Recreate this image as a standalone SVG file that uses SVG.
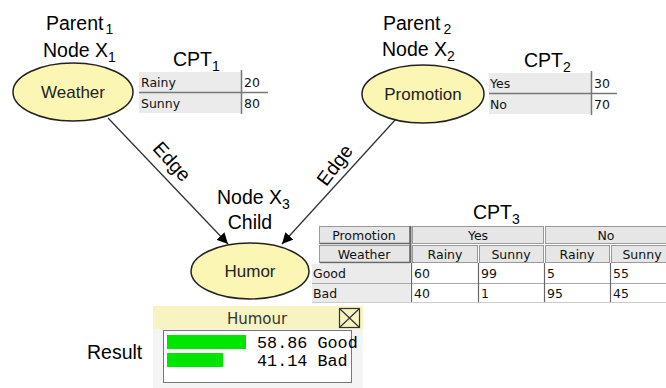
<svg xmlns="http://www.w3.org/2000/svg" width="666" height="388" viewBox="0 0 666 388">
<style>
.lbl{font-family:"Liberation Sans",Arial,sans-serif;font-size:19.5px;fill:#000}
.sub{font-size:14px}
.nd{fill:#fbf6b4;stroke:#222;stroke-width:1.5}
.nt{font-family:"Liberation Sans",Arial,sans-serif;font-size:17px;fill:#222;text-anchor:middle}
.tt{font-family:"DejaVu Sans",Tahoma,sans-serif;font-size:12.5px;fill:#111}
.cell{fill:#ebebeb}
.hd{fill:#e6e6e6;stroke:#999;stroke-width:1}
.ln{stroke:#777;stroke-width:1.5}
.edge{stroke:#333;stroke-width:1.3;fill:none;marker-end:url(#ah)}
.mono{font-family:"Liberation Mono","DejaVu Sans Mono",monospace;font-size:16.8px;fill:#000}
</style>
<defs>
<marker id="ah" viewBox="0 0 10 10" refX="10" refY="5" markerWidth="11" markerHeight="11" markerUnits="userSpaceOnUse" orient="auto">
<path d="M0,0 L10,5 L0,10 z" fill="#000"/>
</marker>
</defs>
<rect width="666" height="388" fill="#fff"/>

<g id="connectors">
<line class="edge" x1="108" y1="118" x2="228" y2="244"/>
<line class="edge" x1="396" y1="119" x2="282" y2="244"/>
<text class="lbl" transform="translate(167,166) rotate(48)" text-anchor="middle">Edge</text>
<text class="lbl" transform="translate(340,169) rotate(-53)" text-anchor="middle">Edge</text>
</g>

<g id="weather">
<text class="lbl" x="46" y="30">Parent<tspan class="sub" dx="2" dy="4">1</tspan></text>
<text class="lbl" x="43" y="57">Node X<tspan class="sub" dy="5">1</tspan></text>
<ellipse class="nd" cx="73" cy="92" rx="60" ry="29"/>
<text class="nt" x="73" y="98">Weather</text>
</g>

<g id="cpt1">
<text class="lbl" x="173" y="66">CPT<tspan class="sub" dy="5">1</tspan></text>
<rect class="cell" x="139" y="72" width="102" height="20"/>
<rect class="cell" x="139" y="93" width="102" height="20"/>
<line class="ln" x1="139" y1="92.5" x2="268" y2="92.5"/>
<line class="ln" x1="241.5" y1="70" x2="241.5" y2="114"/>
<text class="tt" x="141" y="87">Rainy</text>
<text class="tt" x="141" y="108">Sunny</text>
<text class="tt" x="244" y="87">20</text>
<text class="tt" x="244" y="108">80</text>
</g>

<g id="promotion">
<text class="lbl" x="383" y="30">Parent<tspan class="sub" dx="3" dy="4">2</tspan></text>
<text class="lbl" x="382" y="56">Node X<tspan class="sub" dy="5">2</tspan></text>
<ellipse class="nd" cx="423" cy="94" rx="61" ry="29"/>
<text class="nt" x="423" y="100">Promotion</text>
</g>

<g id="cpt2">
<text class="lbl" x="524" y="67">CPT<tspan class="sub" dy="5">2</tspan></text>
<rect class="cell" x="489" y="73" width="102" height="20"/>
<rect class="cell" x="489" y="94" width="102" height="20"/>
<line class="ln" x1="489" y1="93.5" x2="617" y2="93.5"/>
<line class="ln" x1="591.5" y1="71" x2="591.5" y2="115"/>
<text class="tt" x="490" y="88">Yes</text>
<text class="tt" x="490" y="109">No</text>
<text class="tt" x="594" y="88">30</text>
<text class="tt" x="594" y="109">70</text>
</g>

<g id="humor">
<text class="lbl" x="217" y="204">Node X<tspan class="sub" dy="5">3</tspan></text>
<text class="lbl" x="250" y="229" text-anchor="middle">Child</text>
<ellipse class="nd" cx="250" cy="271" rx="59" ry="28"/>
<text class="nt" x="250" y="277">Humor</text>
</g>

<g id="cpt3">
<text class="lbl" x="473" y="219">CPT<tspan class="sub" dy="5">3</tspan></text>
<rect class="hd" x="319.5" y="226.5" width="90" height="17"/>
<rect class="hd" x="319.5" y="245.5" width="90" height="17"/>
<line x1="320" y1="243.5" x2="410" y2="243.5" stroke="#666" stroke-width="1.5"/>
<line x1="320" y1="262.5" x2="410" y2="262.5" stroke="#666" stroke-width="1.5"/>
<line x1="410.5" y1="226" x2="410.5" y2="263" stroke="#666" stroke-width="2"/>
<rect class="hd" x="412.5" y="226.5" width="131" height="17"/>
<rect class="hd" x="545.5" y="226.5" width="125" height="17"/>
<rect class="hd" x="412.5" y="245.5" width="65" height="17"/>
<rect class="hd" x="479.5" y="245.5" width="64" height="17"/>
<rect class="hd" x="545.5" y="245.5" width="64" height="17"/>
<rect class="hd" x="611.5" y="245.5" width="60" height="17"/>
<text class="tt" x="364" y="240" text-anchor="middle">Promotion</text>
<text class="tt" x="364" y="259" text-anchor="middle">Weather</text>
<text class="tt" x="478" y="240" text-anchor="middle">Yes</text>
<text class="tt" x="606" y="240" text-anchor="middle">No</text>
<text class="tt" x="445" y="259" text-anchor="middle">Rainy</text>
<text class="tt" x="511" y="259" text-anchor="middle">Sunny</text>
<text class="tt" x="577" y="259" text-anchor="middle">Rainy</text>
<text class="tt" x="642" y="259" text-anchor="middle">Sunny</text>
<rect class="cell" x="312" y="264" width="98" height="38"/>
<line x1="312" y1="283.5" x2="666" y2="283.5" stroke="#aaa" stroke-width="1"/>
<line x1="312" y1="302.5" x2="666" y2="302.5" stroke="#ccc" stroke-width="1"/>
<line x1="411.5" y1="263" x2="411.5" y2="302" stroke="#666" stroke-width="1.2"/>
<line x1="478.5" y1="263" x2="478.5" y2="302" stroke="#666" stroke-width="1.2"/>
<line x1="544.5" y1="263" x2="544.5" y2="302" stroke="#666" stroke-width="1.2"/>
<line x1="610.5" y1="263" x2="610.5" y2="302" stroke="#666" stroke-width="1.2"/>
<text class="tt" x="313" y="278">Good</text>
<text class="tt" x="313" y="298">Bad</text>
<text class="tt" x="414" y="278">60</text>
<text class="tt" x="481" y="278">99</text>
<text class="tt" x="547" y="278">5</text>
<text class="tt" x="613" y="278">55</text>
<text class="tt" x="414" y="298">40</text>
<text class="tt" x="481" y="298">1</text>
<text class="tt" x="547" y="298">95</text>
<text class="tt" x="613" y="298">45</text>
</g>

<g id="result">
<text class="lbl" x="87" y="359">Result</text>
<rect x="153" y="306" width="210" height="82" fill="#f4f4f4"/>
<rect x="153" y="306" width="210" height="23" fill="#f8f4c2"/>
<text class="tt" x="257" y="324" text-anchor="middle" style="font-size:15px;fill:#333">Humour</text>
<rect x="339.5" y="308.5" width="20" height="19" fill="none" stroke="#333" stroke-width="1.2"/>
<path d="M340,309 L359,327 M359,309 L340,327" stroke="#333" stroke-width="1.2"/>
<rect x="163.5" y="330.5" width="188" height="52" fill="#fff" stroke="#777" stroke-width="1"/>
<rect x="167" y="335" width="79" height="14" fill="#00e600"/>
<rect x="167" y="353" width="56" height="14" fill="#00e600"/>
<text class="mono" x="257" y="348">58.86 Good</text>
<text class="mono" x="257" y="366">41.14 Bad</text>
</g>
</svg>
